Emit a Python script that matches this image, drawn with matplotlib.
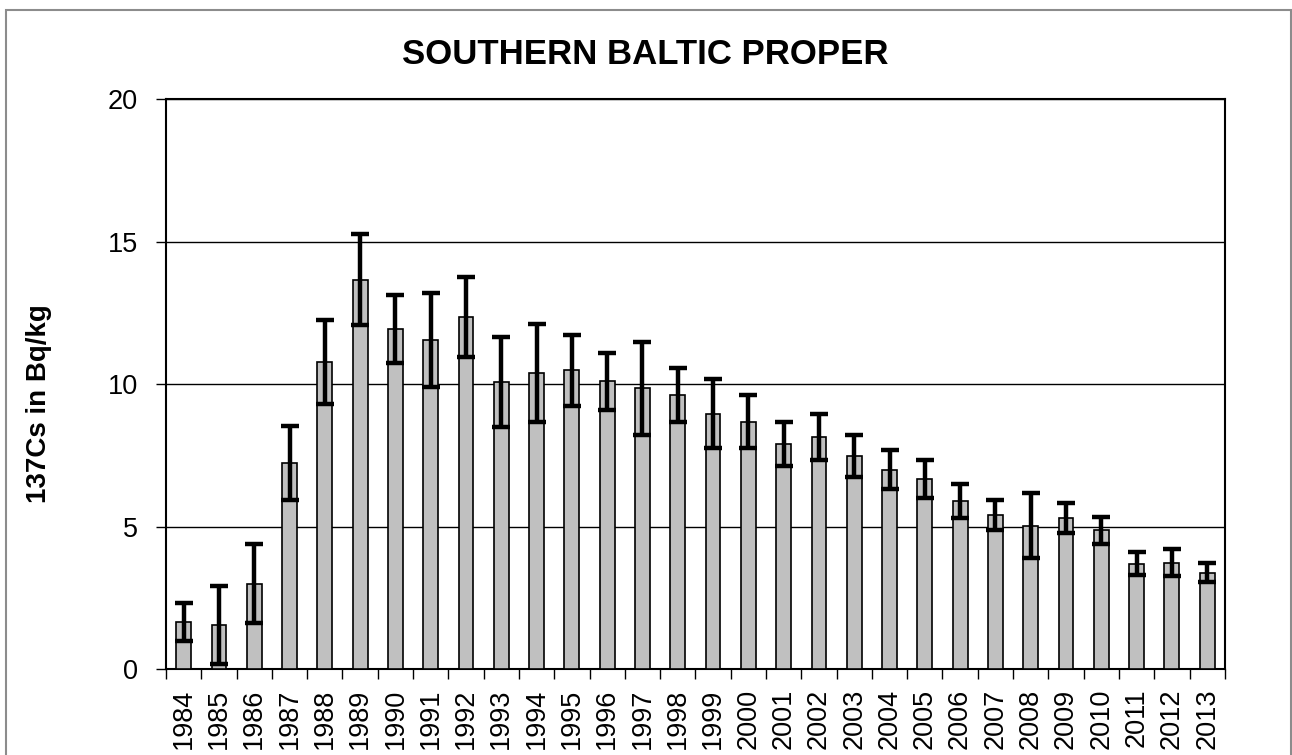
import matplotlib.pyplot as plt
import numpy as np
from matplotlib.patches import Rectangle

plt.rcParams['font.family'] = ['Liberation Sans', 'DejaVu Sans']

# 137Cs activity per year (Bq/kg) and its uncertainty
years = [str(y) for y in range(1984, 2014)]
values = [1.65, 1.55, 3.0, 7.24, 10.79, 13.66, 11.93, 11.55, 12.36, 10.06,
          10.4, 10.49, 10.1, 9.85, 9.61, 8.97, 8.69, 7.9, 8.14, 7.47,
          7.0, 6.67, 5.89, 5.4, 5.04, 5.3, 4.88, 3.71, 3.74, 3.39]
errors = [0.67, 1.38, 1.38, 1.3, 1.47, 1.6, 1.2, 1.65, 1.4, 1.58,
          1.71, 1.25, 1.0, 1.64, 0.95, 1.22, 0.93, 0.78, 0.8, 0.73,
          0.68, 0.66, 0.6, 0.53, 1.13, 0.52, 0.47, 0.41, 0.47, 0.33]

fig = plt.figure(figsize=(12.92, 7.55), dpi=100)
ax = fig.add_axes([0.1285, 0.1135, 0.8195, 0.7554])

x = np.arange(len(years))
ax.bar(x, values, width=0.42, color='#C0C0C0', edgecolor='black',
       linewidth=1.2, zorder=3)
ax.errorbar(x, values, yerr=errors, fmt='none', ecolor='black',
            elinewidth=3.2, capsize=6.5, capthick=3.2, zorder=4)

ax.set_xlim(-0.5, len(years) - 0.5)
ax.set_ylim(0, 20)
ax.set_yticks([0, 5, 10, 15, 20])
ax.yaxis.grid(True, color='black', linewidth=1.0, zorder=0)
ax.set_axisbelow(True)

# tick marks between categories, labels centred under bars
ax.set_xticks(np.arange(len(years) + 1) - 0.5)
ax.set_xticklabels([])
ax.set_xticks(x, minor=True)
ax.set_xticklabels(years, minor=True, rotation=90, fontsize=19.5)
ax.tick_params(axis='x', which='minor', length=0, pad=14)
ax.tick_params(axis='x', which='major', length=7, width=1, direction='out')
ax.tick_params(axis='y', length=7, width=1, direction='out', labelsize=19.5, pad=13)

for s in ax.spines.values():
    s.set_linewidth(1.5)
    s.set_color('black')

ax.set_ylabel('137Cs in Bq/kg', fontsize=20, fontweight='bold', labelpad=32)
ax.yaxis.set_label_coords(-0.108, 0.465)
ax.set_title('SOUTHERN BALTIC PROPER', fontsize=25, fontweight='bold',
             pad=25, x=0.453)

# thin grey frame around the chart area
fig.patches.append(Rectangle((6 / 1292, -0.05), 1284.5 / 1292, 1.05 - 10 / 755,
                             transform=fig.transFigure, fill=False,
                             edgecolor='#8c8c8c', linewidth=1.5))

fig.savefig('out.png', dpi=100)
